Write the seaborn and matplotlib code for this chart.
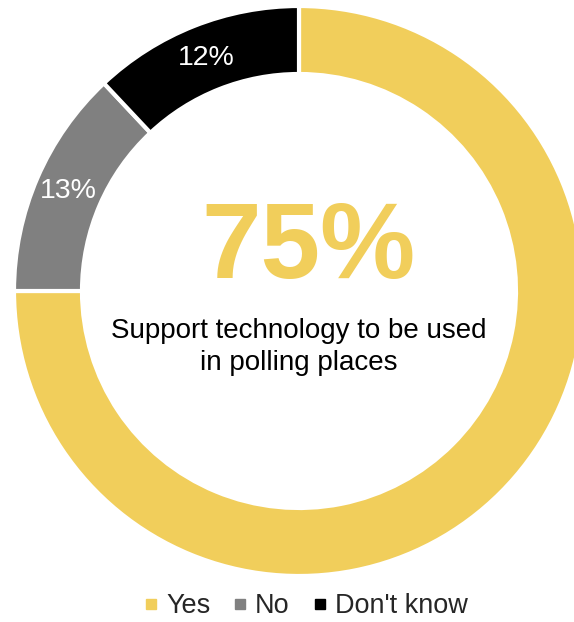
import matplotlib
matplotlib.use("Agg")
import matplotlib.pyplot as plt
from matplotlib.lines import Line2D
import seaborn as sns

# survey answers
categories = ["Yes", "No", "Don't know"]
shares = [75, 13, 12]
colors = ["#F1CE5B", "#808080", "#000000"]
headline = "75%"
caption = "Support technology to be used\nin polling places"

sns.set_theme(style="white")
plt.rcParams['font.family'] = ['Liberation Sans', 'DejaVu Sans']

W, H = 574, 622
cx, cy, R, ring = 299, 291, 285, 68

fig = plt.figure(figsize=(W / 100, H / 100), dpi=100)
ax = fig.add_axes([(cx - R) / W, (H - cy - R) / H, 2 * R / W, 2 * R / H])

wedges, _, autotexts = ax.pie(
    shares, colors=colors, startangle=90, counterclock=False,
    autopct=lambda p: "" if p > 50 else f"{p:.0f}%",
    pctdistance=1 - ring / (2 * R),
    wedgeprops=dict(width=ring / R, edgecolor="white", linewidth=3),
    textprops=dict(color="white", fontsize=20.5),
)
ax.set_xlim(-1, 1)
ax.set_ylim(-1, 1)
ax.set_axis_off()

fig.text(309 / W, 1 - 250 / H, headline, ha="center", va="center",
         fontsize=77, fontweight="bold", color=colors[0])
fig.text(cx / W, 1 - 347 / H, caption, ha="center", va="center",
         fontsize=20, color="black", linespacing=1.35)

handles = [Line2D([], [], marker="s", linestyle="none", markersize=7,
                  markerfacecolor=c, markeredgecolor=c) for c in colors]
fig.legend(handles, categories, loc="center", ncol=3,
           bbox_to_anchor=(306 / W, 1 - 606 / H), frameon=False,
           fontsize=19.5, handlelength=0.5, handletextpad=0.3,
           columnspacing=0.85, borderpad=0)

fig.savefig("out.png", dpi=100)
